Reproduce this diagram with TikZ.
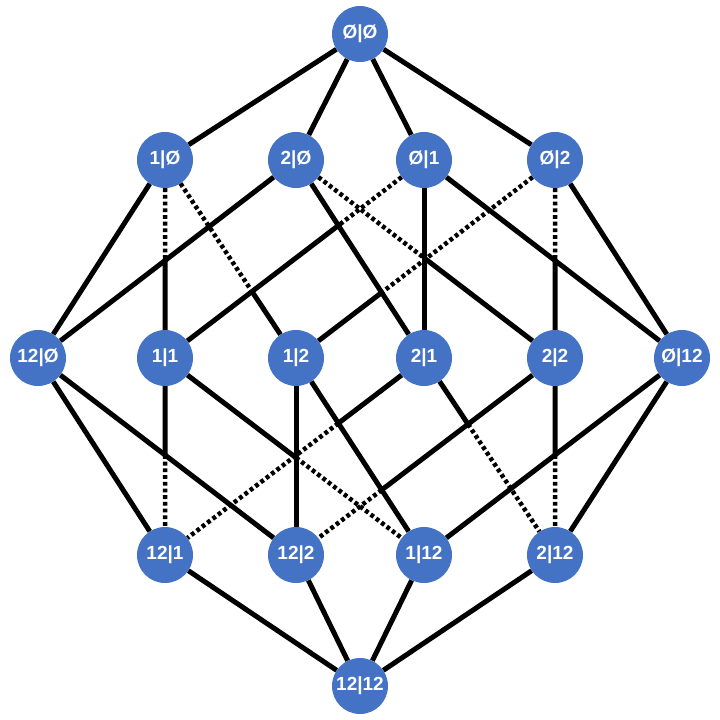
\documentclass[tikz,border=0pt]{standalone}
\usepackage{fontspec}
\setmainfont{Liberation Sans}
\usepackage{xcolor}
\usepackage{tikz}
\definecolor{disc}{HTML}{4472C4}
\definecolor{ink}{HTML}{000000}
\newcommand{\eset}{Ø}

\begin{document}
\begin{tikzpicture}[
  x=1pt,y=-1pt,
  vert/.style={circle,fill=disc,minimum size=56pt,inner sep=0pt,text=white,font=\fontsize{19}{21}\selectfont\bfseries},
  edge/.style={line width=5pt,draw=ink},
  hid/.style={line width=4.5pt,draw=ink,dash pattern=on 3.8pt off 2.9pt}
]
\useasboundingbox (0,0) rectangle (720,720);
% vertices
\node[vert] (n00) at (360,34) {\eset|\eset};
\node[vert] (n10) at (165,160) {1|\eset};
\node[vert] (n20) at (296,160) {2|\eset};
\node[vert] (n01) at (424,160) {\eset|1};
\node[vert] (n02) at (555,160) {\eset|2};
\node[vert] (n30) at (38,358) {12|\eset};
\node[vert] (n11) at (165,358) {1|1};
\node[vert] (n12) at (296,358) {1|2};
\node[vert] (n21) at (424,358) {2|1};
\node[vert] (n22) at (555,358) {2|2};
\node[vert] (n03) at (682,358) {\eset|12};
\node[vert] (n31) at (165,555) {12|1};
\node[vert] (n32) at (296,555) {12|2};
\node[vert] (n13) at (424,555) {1|12};
\node[vert] (n23) at (555,555) {2|12};
\node[vert] (n33) at (360,686) {12|12};
% where hidden parts end
\coordinate (c1) at (intersection of n10--n11 and n20--n30);
\coordinate (c2) at (intersection of n10--n12 and n01--n11);
\coordinate (c3) at (intersection of n20--n22 and n01--n21);
\coordinate (c4) at (intersection of n01--n11 and n20--n21);
\coordinate (c5) at (intersection of n02--n12 and n20--n21);
\coordinate (c6) at (intersection of n02--n22 and n01--n03);
\coordinate (d1) at (intersection of n11--n31 and n30--n32);
\coordinate (d2) at (intersection of n11--n13 and n12--n32);
\coordinate (d3) at (intersection of n21--n31 and n12--n13);
\coordinate (d4) at (intersection of n21--n23 and n22--n32);
\coordinate (d5) at (intersection of n22--n32 and n12--n13);
\coordinate (d6) at (intersection of n22--n23 and n03--n13);
% top
\draw[edge] (n00)--(n10);
\draw[edge] (n00)--(n20);
\draw[edge] (n00)--(n01);
\draw[edge] (n00)--(n02);
% upper middle
\draw[edge] (n10)--(n30);
\draw[edge] (n20)--(n30);
\draw[edge] (n20)--(n21);
\draw[edge] (n01)--(n21);
\draw[edge] (n01)--(n03);
\draw[edge] (n02)--(n03);
\draw[hid] (n10)--(c1); \draw[edge] (c1)--(n11);
\draw[hid] (n10)--(c2); \draw[edge] (c2)--(n12);
\draw[hid] (n20)--(c3); \draw[edge] (c3)--(n22);
\draw[hid] (n01)--(c4); \draw[edge] (c4)--(n11);
\draw[hid] (n02)--(c5); \draw[edge] (c5)--(n12);
\draw[hid] (n02)--(c6); \draw[edge] (c6)--(n22);
% lower middle
\draw[edge] (n30)--(n31);
\draw[edge] (n30)--(n32);
\draw[edge] (n12)--(n32);
\draw[edge] (n12)--(n13);
\draw[edge] (n03)--(n13);
\draw[edge] (n03)--(n23);
\draw[edge] (n11)--(d1); \draw[hid] (d1)--(n31);
\draw[edge] (n11)--(d2); \draw[hid] (d2)--(n13);
\draw[edge] (n21)--(d3); \draw[hid] (d3)--(n31);
\draw[edge] (n21)--(d4); \draw[hid] (d4)--(n23);
\draw[edge] (n22)--(d5); \draw[hid] (d5)--(n32);
\draw[edge] (n22)--(d6); \draw[hid] (d6)--(n23);
% bottom
\draw[edge] (n31)--(n33);
\draw[edge] (n32)--(n33);
\draw[edge] (n13)--(n33);
\draw[edge] (n23)--(n33);
\end{tikzpicture}
\end{document}
